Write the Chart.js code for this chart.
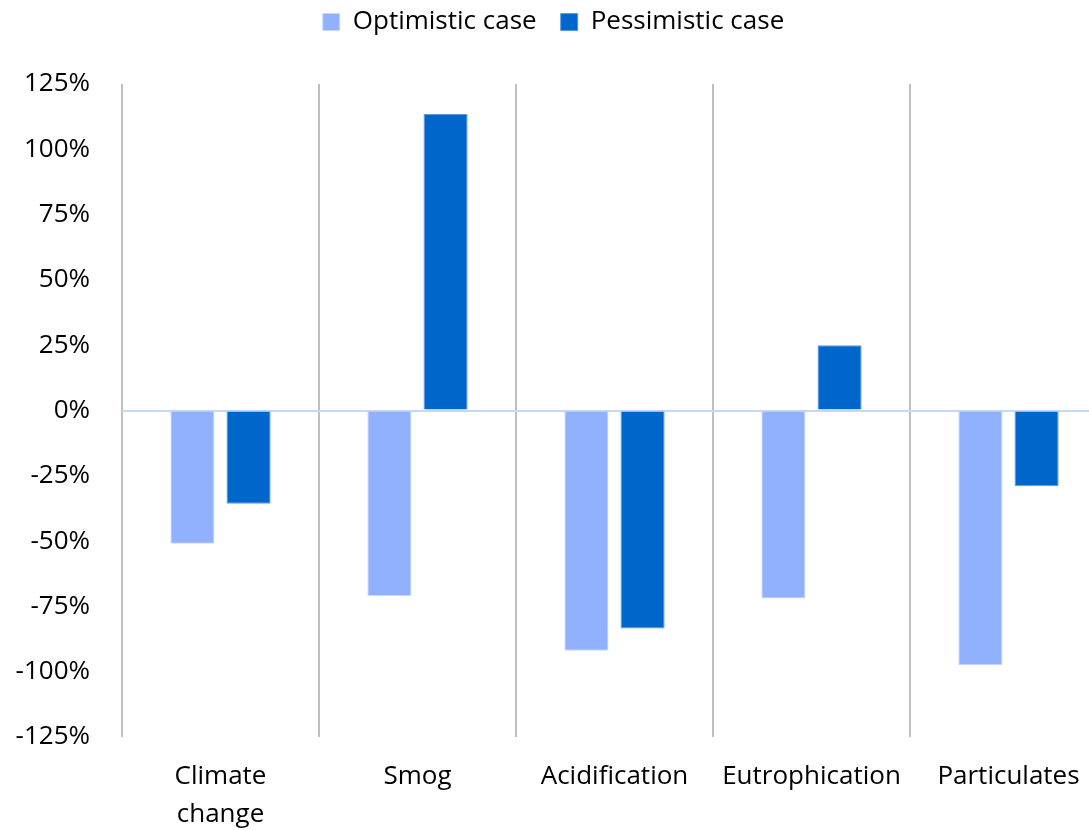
<!DOCTYPE html>
<html>
<head>
<meta charset="utf-8">
<script src="https://cdn.jsdelivr.net/npm/chart.js@4/dist/chart.umd.min.js"></script>
<style>
  html, body { margin: 0; padding: 0; background: #fff; overflow: hidden; }
  #wrap { width: 1089px; height: 830px; overflow: hidden; position: relative; }
</style>
</head>
<body>
<div id="wrap"><canvas id="impactChart" width="1127" height="830"></canvas></div>
<script>
// categories and series (percent change)
const categories = [["Climate", "change"], "Smog", "Acidification", "Eutrophication", "Particulates"];
const optimistic = [-51, -71, -92, -72, -97.5];
const pessimistic = [-35.7, 113.5, -83.5, 25, -29];
const yTicks = [-125, -100, -75, -50, -25, 0, 25, 50, 75, 100, 125];

const FONT = "'Open Sans', sans-serif";

document.addEventListener("DOMContentLoaded", () => {
    const ctx = document.getElementById("impactChart").getContext("2d");

    // fixed legend height so plot area starts where the original does
    const legendHeight = {
        id: "legendHeight",
        beforeInit(chart) {
            const fit = chart.legend.fit;
            chart.legend.fit = function () {
                fit.bind(chart.legend)();
                this.height = 99;
            };
        }
    };

    new Chart(ctx, {
        type: "bar",
        data: {
            labels: categories,
            datasets: [
                {
                    label: "Optimistic case",
                    data: optimistic,
                    backgroundColor: "#91b0fe",
                    borderColor: "#c9d8ff",
                    borderWidth: 1,
                    categoryPercentage: 0.57,
                    barPercentage: 0.786
                },
                {
                    label: "Pessimistic case",
                    data: pessimistic,
                    backgroundColor: "#0066cc",
                    borderColor: "#5d9be0",
                    borderWidth: 1,
                    categoryPercentage: 0.57,
                    barPercentage: 0.786
                }
            ]
        },
        options: {
            responsive: false,
            animation: false,
            layout: { padding: { left: 0, right: 20, top: -15, bottom: 0 } },
            plugins: {
                legend: {
                    position: "top",
                    labels: {
                        color: "#000",
                        font: { family: FONT, size: 26 },
                        boxWidth: 17,
                        boxHeight: 17,
                        padding: 24
                    }
                },
                tooltip: { enabled: false }
            },
            scales: {
                x: {
                    grid: {
                        offset: true,
                        color: "#bfbfbf",
                        lineWidth: 2,
                        drawTicks: false
                    },
                    border: { display: false },
                    ticks: {
                        color: "#000",
                        font: { family: FONT, size: 26, lineHeight: 1.45 },
                        padding: 21,
                        maxRotation: 0
                    },
                    afterFit(scale) { scale.height = 93; }
                },
                y: {
                    min: -125,
                    max: 125,
                    afterBuildTicks(scale) {
                        scale.ticks = yTicks.map(v => ({ value: v }));
                    },
                    grid: {
                        drawTicks: false,
                        lineWidth: 2,
                        color: c => (c.tick && c.tick.value === 0 ? "#c6d7fc" : "rgba(0,0,0,0)")
                    },
                    border: { display: false },
                    ticks: {
                        color: "#000",
                        font: { family: FONT, size: 26 },
                        padding: 32,
                        callback: v => v + "%"
                    },
                    afterFit(scale) { scale.width = 122; }
                }
            }
        },
        plugins: [legendHeight]
    });
});
</script>
</body>
</html>
